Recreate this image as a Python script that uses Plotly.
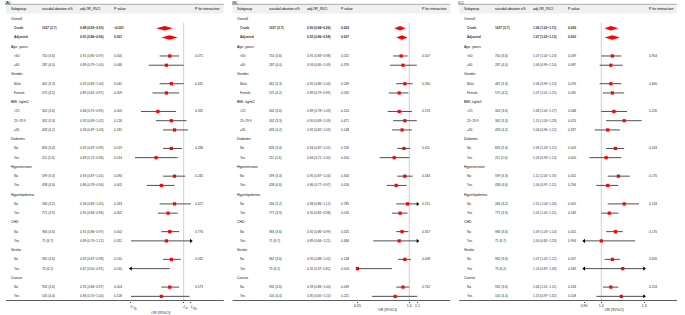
import math
import plotly.graph_objects as go

# ---------------- data ----------------
row_labels = ["Overall", "Crude", "Adjusted", "Age, years", "<60", "≥60", "Gender", "Male", "Female",
              "BMI, kg/m2", "<25", "25~29.9", "≥30", "Diabetes", "No", "Yes", "Hypertension", "No", "Yes",
              "Hyperlipidemia", "No", "Yes", "CHD", "No", "Yes", "Stroke", "No", "Yes", "Cancer", "No", "Yes"]
group_rows = [0, 3, 6, 9, 13, 16, 19, 22, 25, 28]
overall_rows = [1, 2]
pint_rows = [4, 7, 10, 14, 17, 20, 23, 26, 29]

cases_n = ["1037 (3.7)", "", "750 (3.6)", "287 (4.0)", "462 (3.3)", "575 (4.2)", "302 (3.6)", "302 (3.3)",
           "433 (4.2)", "826 (3.4)", "211 (5.6)", "599 (3.3)", "438 (4.6)", "266 (3.2)", "771 (3.9)",
           "966 (3.6)", "71 (6.7)", "962 (3.6)", "75 (6.2)", "932 (3.6)", "105 (4.4)"]

A_est = [0.88, 0.91, 0.91, 0.89, 0.92, 0.89, 0.84, 0.92, 0.94, 0.92, 0.83, 0.94, 0.86, 0.94, 0.90, 0.91, 0.89, 0.92, 0.67, 0.91, 0.86]
A_lo = [0.83, 0.86, 0.85, 0.79, 0.85, 0.81, 0.75, 0.83, 0.87, 0.87, 0.72, 0.87, 0.78, 0.85, 0.84, 0.86, 0.70, 0.87, 0.50, 0.86, 0.70]
A_hi = [0.93, 0.96, 0.97, 1.00, 1.00, 0.97, 0.95, 1.02, 1.03, 0.99, 0.96, 1.01, 0.94, 1.05, 0.96, 0.97, 1.12, 0.98, 0.91, 0.97, 1.04]
A_p = ["<0.001", "0.001", "0.005", "0.046", "0.041", "0.009", "0.005", "0.126", "0.181", "0.019", "0.014",
       "0.094", "0.002", "0.263", "0.002", "0.002", "0.312", "0.010", "0.010", "0.004", "0.118"]
A_pint = ["0.071", "0.431", "0.332", "0.286", "0.245", "0.427", "0.776", "0.032", "0.573"]

B_est = [0.90, 0.92, 0.91, 0.93, 0.95, 0.89, 0.89, 0.95, 0.92, 0.94, 0.84, 0.95, 0.86, 0.98, 0.90, 0.92, 0.89, 0.95, 0.55, 0.93, 0.85]
B_lo = [0.84, 0.86, 0.83, 0.80, 0.86, 0.79, 0.78, 0.83, 0.82, 0.87, 0.71, 0.87, 0.77, 0.86, 0.82, 0.86, 0.66, 0.88, 0.37, 0.86, 0.65]
B_hi = [0.96, 0.98, 0.98, 1.09, 1.04, 0.99, 1.03, 1.09, 1.03, 1.01, 1.00, 1.04, 0.97, 1.12, 0.98, 0.99, 1.21, 1.02, 0.82, 1.00, 1.10]
B_p = ["0.002", "0.007", "0.021", "0.376", "0.249", "0.035", "0.114", "0.471", "0.148", "0.118", "0.050",
       "0.304", "0.016", "0.785", "0.016", "0.025", "0.466", "0.148", "0.003", "0.049", "0.221"]
B_pint = ["0.507", "0.260", "0.574", "0.411", "0.434", "0.251", "0.357", "0.008", "0.762"]

C_est = [1.06, 1.07, 1.07, 1.06, 1.06, 1.07, 1.08, 1.15, 1.04, 1.09, 1.03, 1.11, 1.04, 1.15, 1.05, 1.09, 1.00, 1.07, 1.14, 1.06, 1.13]
C_lo = [1.02, 1.02, 1.00, 0.99, 0.99, 1.01, 1.00, 1.03, 0.96, 1.03, 0.93, 1.04, 0.97, 1.04, 1.00, 1.03, 0.82, 1.02, 0.87, 1.01, 0.97]
C_hi = [1.11, 1.12, 1.13, 1.14, 1.13, 1.15, 1.17, 1.28, 1.12, 1.15, 1.13, 1.19, 1.11, 1.26, 1.11, 1.14, 1.23, 1.12, 1.48, 1.11, 1.32]
C_p = ["0.005", "0.003", "0.039", "0.087", "0.076", "0.035", "0.048", "0.013", "0.337", "0.003", "0.600",
       "0.002", "0.294", "0.005", "0.049", "0.002", "0.994", "0.007", "0.349", "0.018", "0.108"]
C_pint = ["0.954", "0.840", "0.226", "0.243", "0.170", "0.133", "0.170", "0.626", "0.224"]

panel_tags = ["(A)", "(B)", "(C)"]
panel_xlim = [(0.70, 1.05), (0.55, 1.10), (0.90, 1.30)]
panel_ticks = [[0.70, 1.0, 1.05], [0.55, 1.0, 1.1], [0.90, 1.0, 1.3]]
panel_ticktext = [["0.70", "1.0", "1.05"], ["0.55", "1.0", "1.1"], ["0.90", "1.0", "1.3"]]
col_headers = ["Subgroup", "suicidal.ideation.n%", "adj.OR_95CI", "P value", "P for interaction"]

# ---------------- layout constants ----------------
W, H = 685, 315
ROW0, ROWH = 19.0, 9.245
AXIS_Y = 300.5
OFFS = [0, 230, 460]
FX0, FX1 = 129.7, 190.7
COLX = dict(group=6.7, item=10.0, n=38.7, orr=77.3, p=112.0, pint=194.3)
FONT = "Liberation Sans, Arial, sans-serif"
HFS, BFS = 3.5, 3.2

data_rows = [i for i in range(len(row_labels)) if i not in group_rows]

fig = go.Figure()
annotations = []
shapes = []

def ypix_to_row(y):
    return (y - ROW0) / ROWH

def add_text(x_px, row, text, size=BFS, bold=False, color="#2a2a2a"):
    annotations.append(dict(
        x=x_px / W, xref="paper", y=row, yref="y", text=("<b>%s</b>" % text) if bold else text,
        showarrow=False, xanchor="left", yanchor="middle", borderpad=0,
        font=dict(family=FONT, size=size, color=color)))

panels = [(A_est, A_lo, A_hi, A_p, A_pint), (B_est, B_lo, B_hi, B_p, B_pint), (C_est, C_lo, C_hi, C_p, C_pint)]

layout_axes = {}
for k, (est, lo, hi, pv, pint) in enumerate(panels):
    o = OFFS[k]
    xname = "x" if k == 0 else "x%d" % (k + 1)
    axkey = "xaxis" if k == 0 else "xaxis%d" % (k + 1)
    lim0, lim1 = panel_xlim[k]

    # table frame
    shapes.append(dict(type="rect", xref="paper", yref="paper", x0=(o + 3) / W, x1=(o + 224) / W,
                       y0=1 - 13.5 / H, y1=1 - 4.3 / H, fillcolor="#f0f0f0", line_width=0, layer="below"))
    shapes.append(dict(type="line", xref="paper", yref="paper", x0=(o + 3) / W, x1=(o + 224) / W,
                       y0=1 - 4.3 / H, y1=1 - 4.3 / H, line=dict(color="#9a9a9a", width=0.8)))
    shapes.append(dict(type="line", xref="paper", yref="paper", x0=(o + 3) / W, x1=(o + 224) / W,
                       y0=1 - AXIS_Y / H, y1=1 - AXIS_Y / H, line=dict(color="#333333", width=0.8)))
    annotations.append(dict(x=(o + 1) / W, xref="paper", y=1 - 2.2 / H, yref="paper", text=panel_tags[k],
                            showarrow=False, xanchor="left", yanchor="middle", borderpad=0,
                            font=dict(family=FONT, size=4, color="#000")))

    # header
    hrow = ypix_to_row(9.3)
    for txt, cx in zip(col_headers, [COLX["group"], COLX["n"], COLX["orr"], COLX["p"], COLX["pint"]]):
        add_text(o + cx, hrow, txt, size=HFS, color="#000000")

    # body text
    for i in group_rows:
        add_text(o + COLX["group"], i, row_labels[i], size=HFS, color="#111111")
    for j, i in enumerate(data_rows):
        bold = i in overall_rows
        add_text(o + COLX["item"], i, row_labels[i], size=BFS, bold=bold)
        if cases_n[j]:
            add_text(o + COLX["n"], i, cases_n[j], size=BFS, bold=bold)
        add_text(o + COLX["orr"], i, "%.2f (%.2f~%.2f)" % (est[j], lo[j], hi[j]), size=BFS, bold=bold)
        add_text(o + COLX["p"], i, pv[j], size=BFS, bold=bold)
    for r, t in zip(pint_rows, pint):
        add_text(o + COLX["pint"], r, t, size=BFS)

    # reference line at OR = 1
    fig.add_trace(go.Scatter(x=[1, 1], y=[ypix_to_row(22.7), ypix_to_row(AXIS_Y)], mode="lines",
                             line=dict(color="#d0d0d0", width=1), xaxis=xname, yaxis="y",
                             hoverinfo="skip", showlegend=False))

    cx, cy = [], []
    px_, py_ = [], []
    al_x, al_y, ar_x, ar_y = [], [], [], []
    for j, i in enumerate(data_rows):
        if i in overall_rows:
            fig.add_trace(go.Scatter(x=[lo[j], est[j], hi[j], est[j], lo[j]],
                                     y=[i, i - 0.24, i, i + 0.24, i], mode="lines", fill="toself",
                                     fillcolor="#ff0000", line=dict(width=0, color="#ff0000"),
                                     xaxis=xname, yaxis="y", hoverinfo="skip", showlegend=False))
            continue
        cx += [lo[j], hi[j], None]
        cy += [i, i, None]
        if lim0 - 1e-9 <= est[j] <= lim1 + 1e-9:
            px_.append(est[j]); py_.append(i)
        if lo[j] < lim0 - 1e-9:
            al_x.append(lim0); al_y.append(i)
        if hi[j] > lim1 + 1e-9:
            ar_x.append(lim1); ar_y.append(i)
    fig.add_trace(go.Scatter(x=cx, y=cy, mode="lines", line=dict(color="#505050", width=1),
                             xaxis=xname, yaxis="y", hoverinfo="skip", showlegend=False))
    fig.add_trace(go.Scatter(x=al_x, y=al_y, mode="markers", cliponaxis=False,
                             marker=dict(symbol="triangle-left", size=3.5, color="#000000"),
                             xaxis=xname, yaxis="y", hoverinfo="skip", showlegend=False))
    fig.add_trace(go.Scatter(x=ar_x, y=ar_y, mode="markers", cliponaxis=False,
                             marker=dict(symbol="triangle-right", size=3.5, color="#000000"),
                             xaxis=xname, yaxis="y", hoverinfo="skip", showlegend=False))
    fig.add_trace(go.Scatter(x=px_, y=py_, mode="markers", cliponaxis=False,
                             marker=dict(symbol="square", size=3.2, color="#ff0000", line=dict(width=0)),
                             xaxis=xname, yaxis="y", hoverinfo="skip", showlegend=False))

    layout_axes[axkey] = dict(
        type="log", domain=[(o + FX0) / W, (o + FX1) / W],
        range=[math.log10(lim0), math.log10(lim1)], anchor="y",
        tickvals=panel_ticks[k], ticktext=panel_ticktext[k], ticks="outside", ticklen=1.5,
        tickwidth=0.6, tickcolor="#333333", showline=False, showgrid=False, zeroline=False,
        tickfont=dict(family=FONT, size=3.5, color="#222222"),
        title=dict(text="OR (95%CI)", font=dict(family=FONT, size=3.5, color="#222222"), standoff=1),
        fixedrange=True)

fig.update_layout(
    width=W, height=H, margin=dict(l=0, r=0, t=0, b=0),
    paper_bgcolor="white", plot_bgcolor="rgba(0,0,0,0)", showlegend=False,
    yaxis=dict(domain=[(H - AXIS_Y) / H, 1], range=[ypix_to_row(AXIS_Y), ypix_to_row(0)],
               visible=False, fixedrange=True),
    annotations=annotations, shapes=shapes, **layout_axes)

fig.write_html("out.html", config={"displayModeBar": False},
               post_script="document.body.style.margin='0px';document.body.style.padding='0px';")
